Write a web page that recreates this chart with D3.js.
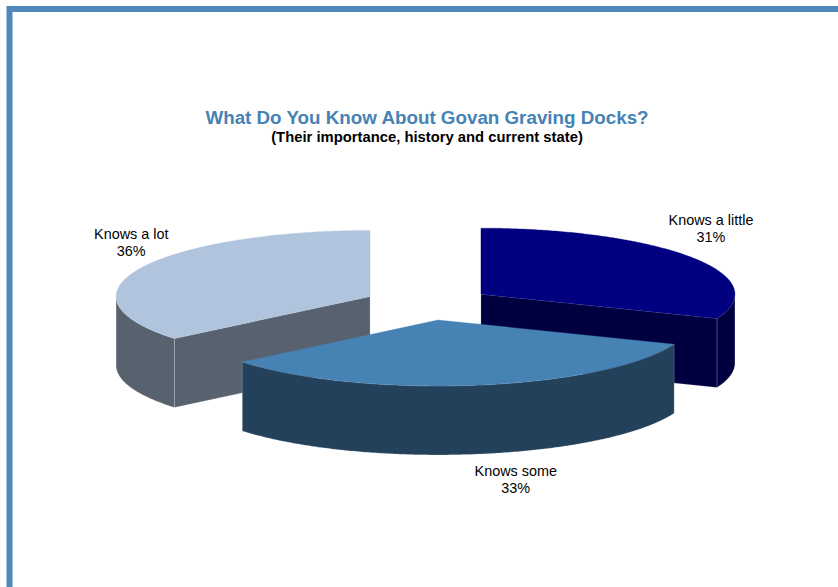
<!DOCTYPE html>
<html>
<head>
<meta charset="utf-8">
<script src="https://cdn.jsdelivr.net/npm/d3@7"></script>
<style>
  html, body { margin: 0; padding: 0; background: #ffffff; }
  svg { display: block; font-family: "Liberation Sans", Arial, Helvetica, sans-serif; }
</style>
</head>
<body>
<svg id="chart" width="838" height="587"></svg>
<script>
// ---- data ----
const categories = ["Knows a little", "Knows some", "Knows a lot"];
const values = [31, 33, 36];
const percentLabels = ["31%", "33%", "36%"];
const titleText = "What Do You Know About Govan Graving Docks?";
const subtitleText = "(Their importance, history and current state)";

// ---- style / layout ----
const topColors = ["#000080", "#4682b4", "#b0c4de"];
const W = 838, H = 587;
const cx = 428, cy = 303.5;      // pie centre on screen
const rx = 254, ry = 66;         // projected ellipse radii
const depth = 69;                // slab thickness
const explode = 64 / 254;        // slice pull-out, fraction of radius
const labelNudge = [[20, -32], [38, 22], [-9, -29]];

const svg = d3.select("#chart");

// frame
svg.append("rect")
  .attr("x", 9.5).attr("y", 9)
  .attr("width", W + 40).attr("height", H + 40)
  .attr("fill", "none")
  .attr("stroke", "#4f88b9")
  .attr("stroke-width", 6);

// titles
svg.append("text")
  .attr("x", 427).attr("y", 124)
  .attr("text-anchor", "middle")
  .attr("font-size", "18.8px").attr("font-weight", "bold")
  .attr("fill", "#4682b4")
  .text(titleText);
svg.append("text")
  .attr("x", 427).attr("y", 141.5)
  .attr("text-anchor", "middle")
  .attr("font-size", "14.8px").attr("font-weight", "bold")
  .attr("fill", "#000000")
  .text(subtitleText);

// unit-circle -> screen projection
const xs = d3.scaleLinear().domain([-1, 1]).range([cx - rx, cx + rx]);
const ys = d3.scaleLinear().domain([-1, 1]).range([cy + ry, cy - ry]);
const zs = d3.scaleLinear().domain([0, 1]).range([0, depth]);

const data = categories.map((c, i) => ({ name: c, value: values[i], pct: percentLabels[i], color: topColors[i] }));
const arcs = d3.pie().sort(null).value(d => d.value)(data);

const line = d3.line();
const darker = c => { const k = d3.rgb(c); return d3.rgb(k.r * 0.5, k.g * 0.5, k.b * 0.5).formatHex(); };

function P(o, a, r, z) {
  // point at angle a (clockwise from 12 o'clock), radius r, level z (0 top, 1 bottom)
  return [xs(o[0] + r * Math.sin(a)), ys(o[1] + r * Math.cos(a)) + zs(z)];
}
function rim(o, a0, a1, z) {
  const n = Math.max(2, Math.ceil((a1 - a0) / 0.01));
  return d3.range(n + 1).map(i => P(o, a0 + (a1 - a0) * i / n, 1, z));
}

arcs.forEach(d => {
  const m = (d.startAngle + d.endAngle) / 2;
  d.mid = m;
  d.off = [explode * Math.sin(m), explode * Math.cos(m)];
  d.screenY = ys(d.off[1]);
});

// paint back-to-front
const order = arcs.slice().sort((a, b) => a.screenY - b.screenY);

order.forEach(d => {
  const g = svg.append("g");
  const o = d.off, a0 = d.startAngle, a1 = d.endAngle;
  const side = darker(d.data.color);
  const edge = { stroke: "rgba(255,255,255,0.3)", w: 0.6 };

  // radial cut faces
  const faces = [];
  if (Math.cos(a0 - Math.PI / 2) < -1e-6) faces.push(a0);
  if (Math.cos(a1 + Math.PI / 2) < -1e-6) faces.push(a1);
  faces.forEach(a => {
    const pts = [P(o, a, 0, 0), P(o, a, 1, 0), P(o, a, 1, 1), P(o, a, 0, 1)];
    g.append("path").attr("d", line(pts) + "Z")
      .attr("fill", side).attr("stroke", edge.stroke).attr("stroke-width", edge.w);
  });

  // outer curved wall (front half only)
  const s0 = Math.max(a0, Math.PI / 2), s1 = Math.min(a1, 3 * Math.PI / 2);
  if (s1 > s0) {
    const pts = rim(o, s0, s1, 0).concat(rim(o, s0, s1, 1).reverse());
    g.append("path").attr("d", line(pts) + "Z")
      .attr("fill", side).attr("stroke", edge.stroke).attr("stroke-width", edge.w);
  }

  // top face
  const topPts = [P(o, 0, 0, 0)].concat(rim(o, a0, a1, 0));
  g.append("path").attr("d", line(topPts) + "Z")
    .attr("fill", d.data.color).attr("stroke", d.data.color).attr("stroke-width", 0.3);
});

// category labels
arcs.forEach((d, i) => {
  const front = Math.cos(d.mid) < 0;
  const p = P(d.off, d.mid, 1, front ? 1 : 0);
  const t = svg.append("text")
    .attr("x", p[0] + labelNudge[i][0])
    .attr("y", p[1] + labelNudge[i][1])
    .attr("text-anchor", "middle")
    .attr("font-size", "14.4px")
    .attr("fill", "#000000");
  t.append("tspan").attr("x", p[0] + labelNudge[i][0]).text(d.data.name);
  t.append("tspan").attr("x", p[0] + labelNudge[i][0]).attr("dy", 16.5).text(d.data.pct);
});
</script>
</body>
</html>
